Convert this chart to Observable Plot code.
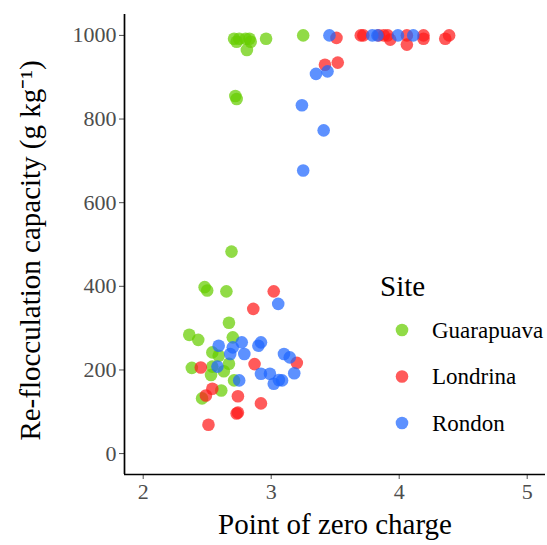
<!DOCTYPE html>
<html><head><meta charset="utf-8">
<script src="https://cdn.jsdelivr.net/npm/d3@7"></script>
<script src="https://cdn.jsdelivr.net/npm/@observablehq/plot@0.6"></script>
<style>
body{margin:0;background:#fff;}
#wrap{position:relative;width:547px;height:545px;}
#legend{position:absolute;left:0;top:0;pointer-events:none;}
</style>
</head><body><div id="wrap"></div>
<script>
const sites = ["Guarapuava", "Londrina", "Rondon"];
const siteColors = ["#66cd00", "#ff1a1a", "#1f66ff"];
const xTicks = [2, 3, 4, 5];
const yTicks = [0, 200, 400, 600, 800, 1000];
const xTitle = "Point of zero charge";
const yTitle = "Re-flocculation capacity (g kg\u207B\u00B9)";
const legendTitle = "Site";

const guarapuavaPZC = [2.71, 2.75, 2.80, 2.83, 2.84, 2.73, 2.81, 2.96, 3.25, 2.72, 2.73,
  2.69, 2.48, 2.50, 2.65, 2.67, 2.36, 2.43, 2.70, 2.54, 2.59, 2.38, 2.54, 2.67, 2.63, 2.53, 2.71, 2.61, 2.46];
const guarapuavaRC = [992, 992, 992, 992, 985, 985, 965, 992, 1000, 855, 848,
  483, 398, 390, 388, 313, 284, 272, 278, 242, 234, 205, 208, 215, 197, 188, 175, 151, 132];

const londrinaPZC = [3.51, 3.70, 3.72, 3.84, 3.88, 3.91, 3.93, 4.06, 4.06, 4.19, 4.19, 4.36, 4.39, 3.42, 3.52,
  3.02, 2.86, 3.20, 2.87, 2.45, 2.54, 2.49, 2.74, 2.92, 2.73, 2.74, 2.51];
const londrinaRC = [994, 1000, 1000, 1000, 1000, 1000, 990, 1000, 978, 1000, 992, 992, 1000, 930, 935,
  388, 346, 217, 214, 206, 155, 139, 137, 120, 96, 98, 69];

const rondonPZC = [3.455, 3.79, 3.83, 3.99, 4.11, 3.35, 3.44, 3.24, 3.41, 3.25,
  3.055, 2.59, 2.70, 2.77, 2.79, 2.68, 2.90, 2.92, 3.10, 3.145, 2.58, 2.92, 2.99, 3.18, 3.02, 3.085, 3.06, 2.75];
const rondonRC = [1000, 1000, 1000, 1000, 1000, 908, 914, 833, 773, 677,
  358, 258, 254, 266, 238, 238, 258, 266, 238, 230, 208, 191, 191, 192, 167, 175, 176, 175];

const xDomain = [1.854, 5.143];
const yDomain = [-50, 1050];

const series = [
  [guarapuavaPZC, guarapuavaRC],
  [londrinaPZC, londrinaRC],
  [rondonPZC, rondonRC]
];
const data = [];
series.forEach(([xs, ys], i) => xs.forEach((x, j) => data.push({site: sites[i], pzc: x, rc: ys[j]})));

const font = "'Liberation Serif', 'Times New Roman', serif";

const chart = Plot.plot({
  width: 547,
  height: 545,
  marginLeft: 124,
  marginRight: 2,
  marginTop: 14,
  marginBottom: 71,
  style: {fontFamily: font, background: "white", overflow: "visible"},
  x: {domain: xDomain},
  y: {domain: yDomain},
  color: {domain: sites, range: siteColors},
  marks: [
    Plot.axisX({ticks: xTicks, tickFormat: d => String(d), tickSize: 5, tickPadding: 4, fontSize: 22, color: "#4d4d4d", label: null}),
    Plot.axisY({ticks: yTicks, tickFormat: d => String(d), tickSize: 5, tickPadding: 3, fontSize: 22, color: "#4d4d4d", label: null}),
    Plot.ruleX([xDomain[0]], {stroke: "black", strokeWidth: 1.7}),
    Plot.ruleY([yDomain[0]], {stroke: "black", strokeWidth: 1.7}),
    Plot.dot(data, {x: "pzc", y: "rc", fill: "site", r: 6.3, fillOpacity: 0.72, stroke: "none"}),
    Plot.text([xTitle], {text: d => d, frameAnchor: "bottom", dy: 59, fontSize: 29, fill: "black"}),
    Plot.text([yTitle], {text: d => d, frameAnchor: "left", textAnchor: "middle", dx: -94, dy: 6, rotate: -90, fontSize: 29, fill: "black"})
  ]
});

const wrap = document.getElementById("wrap");
wrap.appendChild(chart);

// legend
const leg = d3.select(wrap).append("svg")
  .attr("id", "legend").attr("width", 547).attr("height", 545)
  .style("font-family", font);
leg.append("text").attr("x", 380).attr("y", 296).attr("font-size", 29).attr("fill", "black").text(legendTitle);
const items = leg.selectAll("g.item").data(sites).join("g")
  .attr("transform", (d, i) => `translate(0,${330 + i * 46.5})`);
items.append("circle").attr("cx", 402).attr("cy", 0).attr("r", 6.3)
  .attr("fill", (d, i) => siteColors[i]).attr("fill-opacity", 0.72);
items.append("text").attr("x", 432).attr("y", 0).attr("dy", "0.33em")
  .attr("font-size", 23).attr("fill", "black").text(d => d);
</script>
</body></html>
